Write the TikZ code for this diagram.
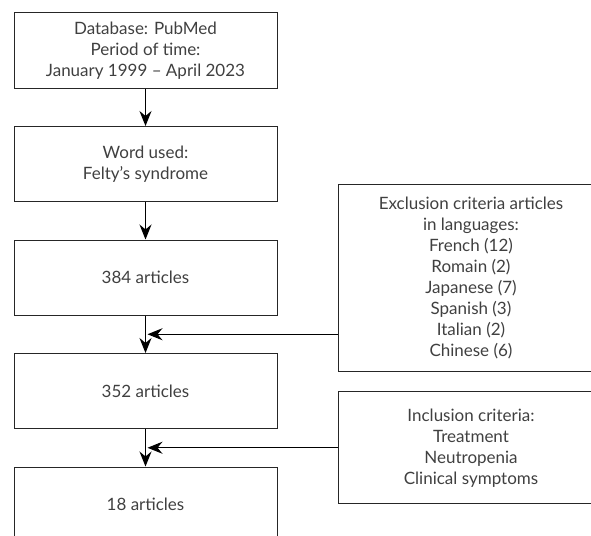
\documentclass[tikz,border=0pt]{standalone}
\usepackage{fontspec}
\setmainfont{Lato}
\usetikzlibrary{arrows.meta, positioning}

\begin{document}
\begin{tikzpicture}[
  node distance=37.5pt,
  box/.style={rectangle, draw=black!85, line width=1pt, minimum width=263pt, minimum height=75pt, align=center, font=\fontsize{17}{21}\selectfont, text=black!75},
  critbox/.style={box, minimum width=266pt},
  arrow/.style={-{Stealth[length=15pt, width=12pt, inset=5pt]}, line width=1pt}
]
\useasboundingbox (0,0) rectangle (591pt,-535pt);
\clip (0,0) rectangle (591pt,-535pt);
\node[box] (B1) at (145.5pt,-50.5pt) {Database: PubMed\\ Period of time:\\ January 1999 -- April 2023};
\node[box, below=of B1] (B2) {Word used:\\ Felty’s syndrome};
\node[box, below=of B2] (B3) {384 articles};
\node[box, below=of B3] (B4) {352 articles};
\node[box, below=of B4] (B5) {18 articles};
\coordinate[below=18.75pt of B3.south] (J1);
\coordinate[below=18.75pt of B4.south] (J2);
\node[critbox, minimum height=187pt, right=60pt of B3] (EX) {Exclusion criteria articles\\ in languages:\\ French (12)\\ Romain (2)\\ Japanese (7)\\ Spanish (3)\\ Italian (2)\\ Chinese (6)};
\node[critbox, minimum height=112pt, anchor=west] (IN) at (EX.west |- J2) {Inclusion criteria:\\ Treatment\\ Neutropenia\\ Clinical symptoms};
\draw[arrow] (B1) -- (B2);
\draw[arrow] (B2) -- (B3);
\draw[arrow] (B3) -- (B4);
\draw[arrow] (B4) -- (B5);
\draw[arrow] (EX.west |- J1) -- ([xshift=2pt]J1);
\draw[arrow] (IN.west |- J2) -- ([xshift=2pt]J2);
\end{tikzpicture}
\end{document}
